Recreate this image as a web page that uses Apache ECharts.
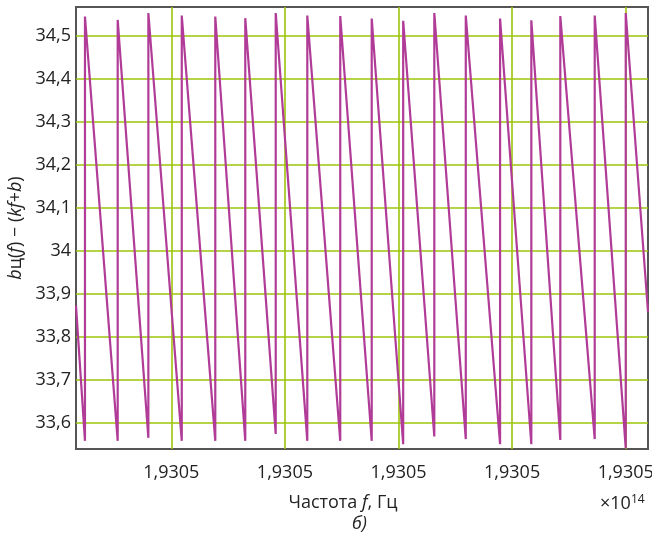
<!DOCTYPE html>
<html>
<head>
<meta charset="utf-8">
<script src="https://cdn.jsdelivr.net/npm/echarts@6/dist/echarts.min.js"></script>
<style>
html,body{margin:0;padding:0;background:#fff;}
#chart{width:652px;height:541px;}
</style>
</head>
<body>
<div id="chart"></div>
<script>
// x positions are in tick units (tick k = k-th "1,9305" label)
const toothX = [0.240, 0.528, 0.798, 1.092, 1.387, 1.651, 1.919, 2.197, 2.487, 2.764, 3.041, 3.315, 3.592, 3.894, 4.169, 4.424, 4.727, 5.000];
const troughY = [33.559, 33.559, 33.566, 33.559, 33.559, 33.559, 33.575, 33.559, 33.559, 33.559, 33.551, 33.569, 33.563, 33.551, 33.551, 33.561, 33.563, 33.542];
const peakY = [34.545, 34.537, 34.553, 34.547, 34.545, 34.541, 34.553, 34.547, 34.546, 34.540, 34.535, 34.553, 34.547, 34.540, 34.536, 34.546, 34.547, 34.553];
const startPoint = [0.161, 33.873];
const endPoint = [5.196, 33.859];
const xTicks = [1, 2, 3, 4, 5];
const xTickLabel = '1,9305';
const yTicks = [33.6, 33.7, 33.8, 33.9, 34.0, 34.1, 34.2, 34.3, 34.4, 34.5];

const data = [startPoint];
toothX.forEach((x, i) => { data.push([x, troughY[i]]); data.push([x, peakY[i]]); });
data.push(endPoint);

const gridColor = '#9cc40a';
const font = 'Open Sans';
const fs = 18;

function near(v, arr) { return arr.find(t => Math.abs(t - v) < 1e-6); }

const chart = echarts.init(document.getElementById('chart'), null, {renderer: 'canvas'});
chart.setOption({
  animation: false,
  backgroundColor: '#fff',
  grid: {left: 76, right: 4, top: 7, bottom: 92, containLabel: false, outerBoundsMode: 'none',
    show: true, borderColor: '#555', borderWidth: 2, backgroundColor: 'transparent'},
  xAxis: {
    type: 'value', min: startPoint[0], max: endPoint[0], minInterval: 1, maxInterval: 1,
    axisLine: {show: false}, axisTick: {show: false}, splitLine: {show: false},
    axisLabel: {
      margin: 15, fontFamily: font, fontSize: fs, color: '#222',
      formatter: v => near(v, xTicks) !== undefined ? xTickLabel : ''
    },
    name: 'Частота {i|f}, Гц', nameLocation: 'middle', nameGap: 45,
    nameTextStyle: {fontFamily: font, fontSize: fs, color: '#222', padding: [0, 38, 0, 0],
      rich: {i: {fontFamily: font, fontSize: fs, fontStyle: 'italic', color: '#222'}}}
  },
  yAxis: {
    type: 'value', min: 33.54, max: 34.567, minInterval: 0.1, maxInterval: 0.1,
    axisLine: {show: false}, axisTick: {show: false}, splitLine: {show: false},
    axisLabel: {
      margin: 5, fontFamily: font, fontSize: fs, color: '#222',
      formatter: v => { const t = near(v, yTicks); if (t === undefined) return ''; const s = Math.abs(t - Math.round(t)) < 1e-6 ? String(Math.round(t)) : t.toFixed(1); return s.replace('.', ','); }
    },
    name: '{i|b}ц({i|f}) − ({i|kf}+{i|b})', nameLocation: 'middle', nameGap: 51, nameRotate: 90,
    nameTextStyle: {fontFamily: font, fontSize: fs, color: '#222',
      rich: {i: {fontFamily: font, fontSize: fs, fontStyle: 'italic', color: '#222'}}}
  },
  graphic: [
    {type: 'text', left: 600, top: 494, style: {text: '×10{s|14}', font: fs + 'px "Open Sans"', fill: '#222',
      rich: {s: {fontSize: 12, verticalAlign: 'top', padding: [0, 0, 8, 0], fill: '#222', fontFamily: font}}}},
    {type: 'text', left: 352, top: 515, style: {text: 'б)', font: 'italic ' + fs + 'px "Open Sans"', fill: '#222'}}
  ],
  series: [{
    type: 'line', data: data, showSymbol: false, symbol: 'none',
    lineStyle: {color: '#b03c98', width: 2.2}, z: 3,
    markLine: {
      silent: true, symbol: 'none', label: {show: false}, animation: false,
      lineStyle: {color: gridColor, width: 1.6, type: 'solid'},
      data: xTicks.map(v => ({xAxis: v})).concat(yTicks.map(v => ({yAxis: v}))),
      z: 1
    }
  }]
});
</script>
</body>
</html>
